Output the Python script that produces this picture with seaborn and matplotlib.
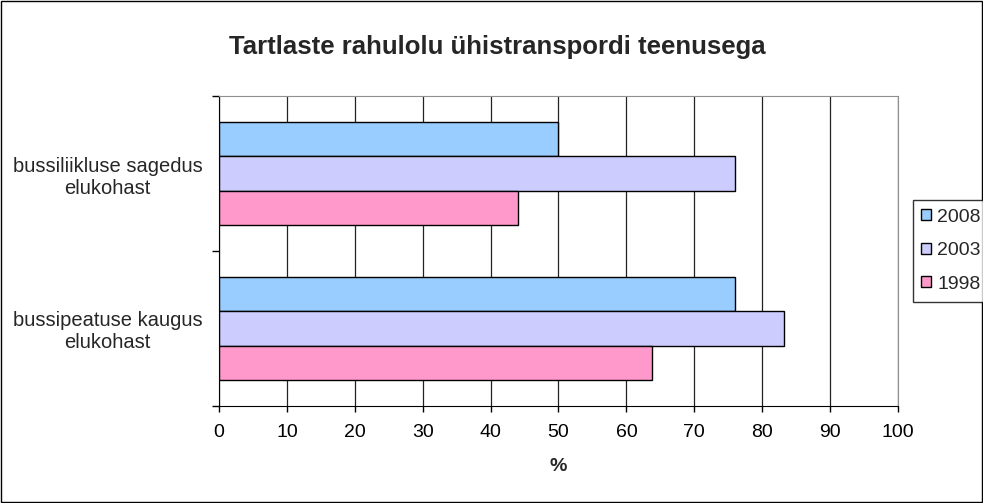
import pandas as pd
import matplotlib.pyplot as plt
import seaborn as sns
from matplotlib.patches import Rectangle

categories = ["bussiliikluse sagedus\nelukohast", "bussipeatuse kaugus\nelukohast"]
years = ["2008", "2003", "1998"]
values_2008 = [50, 76]
values_2003 = [76, 83.2]
values_1998 = [44, 63.8]
colors = ["#99CCFF", "#CCCCFF", "#FF99CC"]

df = pd.DataFrame({
    "kategooria": categories * 3,
    "aasta": [y for y in years for _ in categories],
    "protsent": values_2008 + values_2003 + values_1998,
})

sns.set_style("white")
plt.rcParams["font.family"] = ["Liberation Sans", "DejaVu Sans"]

fig = plt.figure(figsize=(9.83, 5.03), dpi=100)
ax = fig.add_axes([0.2228, 0.193, 0.6907, 0.616])

sns.barplot(data=df, x="protsent", y="kategooria", hue="aasta", hue_order=years,
            order=categories, palette=colors, orient="h", width=0.66,
            edgecolor="black", linewidth=1, saturation=1, ax=ax, legend=True)

ax.set_xlim(0, 100)
ax.set_ylim(1.5, -0.5)
ax.set_xticks(range(0, 101, 10))
ax.set_xticklabels([str(v) for v in range(0, 101, 10)],
                   family=["Liberation Sans Narrow", "Liberation Sans"], fontsize=14)
ax.tick_params(axis="x", length=4, width=1, direction="out", bottom=True,
               colors="black", pad=9)
ax.set_yticks([0, 1])
ax.set_yticklabels(categories, fontsize=14.5)
for lab in ax.get_yticklabels():
    lab.set_multialignment("center")
ax.tick_params(axis="y", length=0, pad=12)
ax.set_yticks([-0.5, 0.5, 1.5], minor=True)
ax.tick_params(axis="y", which="minor", length=5, width=1, left=True, color="black")
ax.grid(axis="x", color="#222222", linewidth=0.9)
ax.set_axisbelow(True)

ax.spines["top"].set_color("#909090")
ax.spines["right"].set_color("#909090")
ax.spines["left"].set_color("black")
ax.spines["bottom"].set_color("black")

ax.set_ylabel("")
ax.set_xlabel("%", fontsize=14, fontweight="bold", labelpad=12)
fig.text(0.506, 0.907, "Tartlaste rahulolu ühistranspordi teenusega", fontsize=18.5,
         fontweight="bold", ha="center", va="center")

# legend sits at the right edge like the original; nudged so labels stay whole
handles, labels = ax.get_legend_handles_labels()
ax.get_legend().remove()
fig.legend(handles, labels, loc="upper left", bbox_to_anchor=(0.9285, 0.6024),
           fontsize=14, frameon=True, fancybox=False, edgecolor="black",
           handlelength=0.5, handleheight=0.5, handletextpad=0.3,
           borderpad=0.45, labelspacing=0.85, borderaxespad=0)

fig.patches.append(Rectangle((0.001, 0.002), 0.998, 0.996, transform=fig.transFigure,
                             fill=False, edgecolor="black", linewidth=1))

fig.savefig("out.png", dpi=100)
